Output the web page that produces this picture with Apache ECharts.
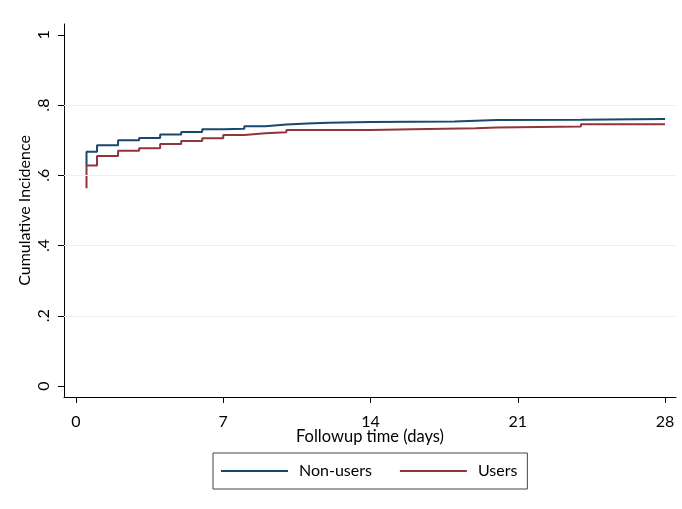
<!DOCTYPE html>
<html>
<head>
<meta charset="utf-8">
<script src="https://cdn.jsdelivr.net/npm/echarts@6/dist/echarts.min.js"></script>
<style>
html,body{margin:0;padding:0;background:#fff;}
#chart{width:682px;height:509px;}
</style>
</head>
<body>
<div id="chart"></div>
<script>
// Data
var nonUsersTime = [0.5, 0.5, 1, 2, 3, 4, 5, 6, 7, 8, 9, 10, 11, 12, 14, 18, 19, 20, 24, 28];
var nonUsersCI   = [0.628, 0.6675, 0.686, 0.700, 0.706, 0.716, 0.7236, 0.731, 0.733, 0.740, 0.7445, 0.7475, 0.7495, 0.752, 0.7535, 0.7555, 0.7575, 0.7585, 0.7605, 0.7605];
var usersTime    = [0.5, 0.5, 1, 2, 3, 4, 5, 6, 7, 8, 9, 10, 14, 16, 19, 20, 24, 28];
var usersCI      = [0.563, 0.628, 0.655, 0.670, 0.677, 0.689, 0.698, 0.7055, 0.715, 0.720, 0.7225, 0.729, 0.731, 0.734, 0.7365, 0.739, 0.7455, 0.7455];
var xTicks = [0, 7, 14, 21, 28];
var yTicks = [0, 0.2, 0.4, 0.6, 0.8, 1];
var yTickLabels = ["0", ".2", ".4", ".6", ".8", "1"];
var gridValues = [0.2, 0.4, 0.6, 0.8];
var seriesNames = ['Non-users', 'Users'];

function pairs(t, v) { return t.map(function (x, i) { return [x, v[i]]; }); }

var FONT = 'Lato';
var chart = echarts.init(document.getElementById('chart'), null, {renderer: 'canvas'});
chart.setOption({
  animation: false,
  backgroundColor: '#ffffff',
  textStyle: {fontFamily: FONT, color: '#000'},
  grid: {left: 64, right: 6, top: 24, bottom: 112, containLabel: false},
  xAxis: {
    type: 'value',
    min: -0.570, max: 28.52,
    name: 'Followup time (days)',
    nameLocation: 'middle',
    nameGap: 31,
    nameMoveOverlap: false,
    nameTextStyle: {fontFamily: FONT, fontSize: 16.5, color: '#000'},
    axisLine: {show: true, onZero: false, lineStyle: {color: '#000', width: 1}},
    axisTick: {show: true, length: 6, customValues: xTicks, lineStyle: {color: '#000'}},
    axisLabel: {customValues: xTicks, margin: 17, fontFamily: FONT, fontSize: 16, color: '#000', showMinLabel: true, showMaxLabel: true},
    splitLine: {show: false}
  },
  yAxis: {
    type: 'value',
    min: -0.0313, max: 1.031,
    name: 'Cumulative Incidence',
    nameLocation: 'middle',
    nameGap: 31,
    nameRotate: 90,
    nameMoveOverlap: false,
    nameTextStyle: {fontFamily: FONT, fontSize: 16, color: '#000'},
    axisLine: {show: true, onZero: false, lineStyle: {color: '#000', width: 1}},
    axisTick: {show: true, length: 6, customValues: yTicks, lineStyle: {color: '#000'}},
    axisLabel: {
      customValues: yTicks, rotate: 90, margin: 12, fontFamily: FONT, fontSize: 16, color: '#000',
      formatter: function (v) { var i = yTicks.indexOf(v); return i >= 0 ? yTickLabels[i] : ''; }
    },
    splitLine: {show: false}
  },
  legend: {
    left: 213,
    top: 453,
    orient: 'horizontal',
    data: seriesNames.map(function (n) { return {name: n, icon: 'rect'}; }),
    itemWidth: 67,
    itemHeight: 2,
    itemGap: 28,
    padding: [10, 10, 10, 8],
    borderColor: '#444',
    borderWidth: 1,
    textStyle: {fontFamily: FONT, fontSize: 16, color: '#000', padding: [0, 0, 0, 6]}
  },
  series: [
    {
      name: 'grid', type: 'line', data: [], z: 1, silent: true,
      markLine: {
        silent: true, symbol: 'none', label: {show: false}, animation: false,
        lineStyle: {color: '#eaf2f3', width: 1, type: 'solid'},
        data: gridValues.map(function (v) { return {yAxis: v}; })
      }
    },
    {
      name: seriesNames[0], type: 'line', step: 'end', showSymbol: false, symbol: 'none', z: 3,
      data: pairs(nonUsersTime, nonUsersCI),
      lineStyle: {color: '#1a476f', width: 2},
      itemStyle: {color: '#1a476f'}
    },
    {
      name: seriesNames[1], type: 'line', step: 'end', showSymbol: false, symbol: 'none', z: 4,
      data: pairs(usersTime, usersCI),
      lineStyle: {color: '#90353b', width: 2},
      itemStyle: {color: '#90353b'}
    }
  ]
});
</script>
</body>
</html>
